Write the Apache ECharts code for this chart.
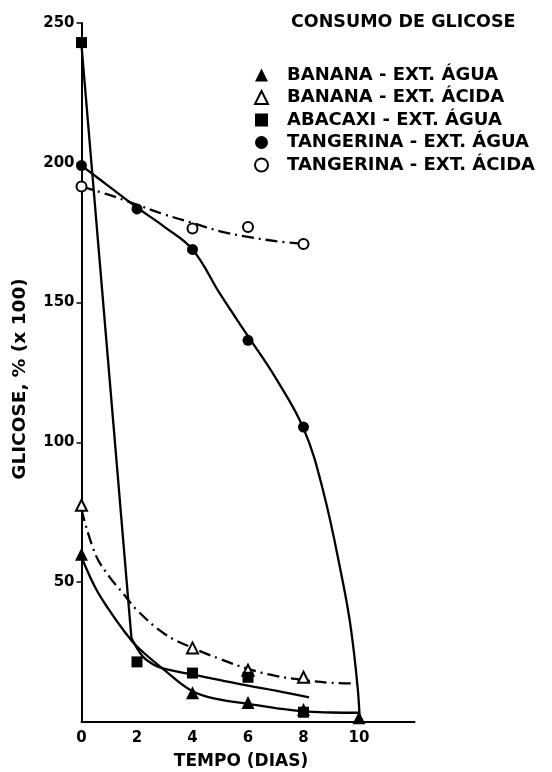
<!DOCTYPE html>
<html>
<head>
<meta charset="utf-8">
<script src="https://cdn.jsdelivr.net/npm/echarts@6/dist/echarts.min.js"></script>
<style>
html,body{margin:0;padding:0;background:#fff;}
#chart{width:552px;height:772px;}
</style>
</head>
<body>
<div id="chart"></div>
<script>
// ---- data ----
const xTicks = [0, 2, 4, 6, 8, 10];
const yTicks = [50, 100, 150, 200, 250];
const legendNames = [
  'BANANA - EXT. ÁGUA',
  'BANANA - EXT. ÁCIDA',
  'ABACAXI - EXT. ÁGUA',
  'TANGERINA - EXT. ÁGUA',
  'TANGERINA - EXT. ÁCIDA'
];
// measured points [dias, glicose]
const bananaAguaPts = [[0, 60], [4, 10.5], [6, 7], [8, 4.5], [10, 1.5]];
const bananaAcidaPts = [[0, 77.5], [4, 26.5], [6, 18.5], [8, 16]];
const abacaxiAguaPts = [[0, 243], [2, 21.5], [4, 17.5], [6, 16], [8, 3.5]];
const tangerinaAguaPts = [[0, 199], [2, 183.5], [4, 169], [6, 136.5], [8, 105.5]];
const tangerinaAcidaPts = [[0, 191.5], [4, 176.5], [6, 177], [8, 171]];
// fitted curves as drawn in the figure
const bananaAguaCurve = [[0, 59], [0.5, 48], [1, 40], [1.5, 33], [2, 27], [3, 18.5], [4, 11], [5, 8], [6, 6.5], [7, 5], [8, 3.8], [9, 3.4], [10, 3.3]];
const bananaAcidaCurve = [[0, 76], [0.5, 60], [1, 52], [1.5, 46], [2, 40], [3, 31.5], [4, 26.5], [5, 22.5], [6, 19], [7, 16.5], [8, 15], [9, 14], [9.9, 13.8]];
const abacaxiAguaDrop = [[0, 242], [1.8, 30]];
const abacaxiAguaCurve = [[1.8, 30], [2.2, 23.5], [2.6, 20.5], [3, 19], [4, 17], [5, 15], [6, 13], [7, 11.2], [8.2, 8.8]];
const tangerinaAguaCurve = [[0, 199], [1, 191.5], [2, 184], [3, 177], [4, 169], [5, 153], [6, 138], [7, 123], [8, 105], [8.7, 83], [9.4, 51], [9.7, 34], [9.95, 12.5], [10.03, 0]];
const tangerinaAcidaCurve = [[0, 191.5], [1, 188.5], [2, 185], [3, 181.5], [4, 178.5], [5, 175.5], [6, 173.5], [7, 172], [8, 171]];

const FONT = 'DejaVu Sans';
const BLACK = '#000';
const dashDot = [12, 5, 2, 5];

function curve(name, data, dashed, smooth) {
  return {
    name: name, type: 'line', data: data, showSymbol: false, symbol: 'none',
    smooth: smooth, z: 2, silent: true,
    lineStyle: { color: BLACK, width: 2.3, type: dashed ? dashDot : 'solid' }
  };
}
function points(name, data, symbol, open, size) {
  return {
    name: name, type: 'scatter', data: data, symbol: symbol, symbolSize: size, z: 5,
    itemStyle: open ? { color: '#fff', borderColor: BLACK, borderWidth: 2, opacity: 1 }
                    : { color: BLACK, borderColor: BLACK, borderWidth: 0, opacity: 1 }
  };
}

const chart = echarts.init(document.getElementById('chart'), null, { renderer: 'canvas' });
chart.setOption({
  backgroundColor: '#fff',
  animation: false,
  title: {
    text: 'CONSUMO DE GLICOSE', left: 286, top: 8,
    textStyle: { fontFamily: FONT, fontSize: 17.5, fontWeight: 'bold', color: BLACK }
  },
  legend: {
    orient: 'vertical', left: 249, top: 61, itemGap: 4.5, itemWidth: 13, itemHeight: 13,
    selectedMode: false,
    textStyle: { fontFamily: FONT, fontSize: 18, lineHeight: 18, fontWeight: 'bold', color: BLACK, padding: [0, 0, 0, 14] },
    data: [
      { name: legendNames[0], icon: 'triangle', itemStyle: { color: BLACK, borderWidth: 0 } },
      { name: legendNames[1], icon: 'triangle', itemStyle: { color: '#fff', borderColor: BLACK, borderWidth: 2 } },
      { name: legendNames[2], icon: 'rect', itemStyle: { color: BLACK, borderWidth: 0 } },
      { name: legendNames[3], icon: 'circle', itemStyle: { color: BLACK, borderWidth: 0 } },
      { name: legendNames[4], icon: 'circle', itemStyle: { color: '#fff', borderColor: BLACK, borderWidth: 2 } }
    ]
  },
  grid: { left: 81.5, top: 23, width: 333, height: 699, containLabel: false, outerBoundsMode: 'none' },
  xAxis: {
    type: 'value', min: 0, max: 12, interval: 2,
    name: 'TEMPO (DIAS)', nameLocation: 'middle', nameGap: 31,
    nameTextStyle: { fontFamily: FONT, fontSize: 17, fontWeight: 'bold', color: BLACK, padding: [0, 14, 0, 0] },
    axisLine: { show: true, onZero: false, lineStyle: { color: BLACK, width: 2 } },
    axisTick: { show: false },
    splitLine: { show: false },
    axisLabel: {
      showMaxLabel: false, margin: 9, color: BLACK, fontFamily: FONT, fontSize: 15, fontWeight: 'bold',
      formatter: function (v) { return xTicks.indexOf(v) >= 0 ? String(v) : ''; }
    }
  },
  yAxis: {
    type: 'value', min: 0, max: 250, interval: 50,
    name: 'GLICOSE, % (x 100)', nameLocation: 'middle', nameGap: 52, nameRotate: 90,
    nameTextStyle: { fontFamily: FONT, fontSize: 18.5, fontWeight: 'bold', color: BLACK, padding: [0, 13, 0, 0] },
    axisLine: { show: true, onZero: false, lineStyle: { color: BLACK, width: 2 } },
    axisTick: { show: true, inside: false, length: 5, lineStyle: { color: BLACK, width: 1.5 } },
    splitLine: { show: false },
    axisLabel: {
      showMinLabel: false, margin: 7, color: BLACK, fontFamily: FONT, fontSize: 15, fontWeight: 'bold',
      formatter: function (v) { return yTicks.indexOf(v) >= 0 ? String(v) : ''; }
    }
  },
  series: [
    curve('c1', bananaAguaCurve, false, 0.4),
    curve('c2', bananaAcidaCurve, true, 0.4),
    curve('c3a', abacaxiAguaDrop, false, false),
    curve('c3b', abacaxiAguaCurve, false, 0.4),
    curve('c4', tangerinaAguaCurve, false, 0.4),
    curve('c5', tangerinaAcidaCurve, true, 0.4),
    points(legendNames[0], bananaAguaPts, 'triangle', false, 13),
    points(legendNames[1], bananaAcidaPts, 'triangle', true, 11),
    points(legendNames[2], abacaxiAguaPts, 'rect', false, 11),
    points(legendNames[3], tangerinaAguaPts, 'circle', false, 11),
    points(legendNames[4], tangerinaAcidaPts, 'circle', true, 10)
  ]
});
</script>
</body>
</html>
